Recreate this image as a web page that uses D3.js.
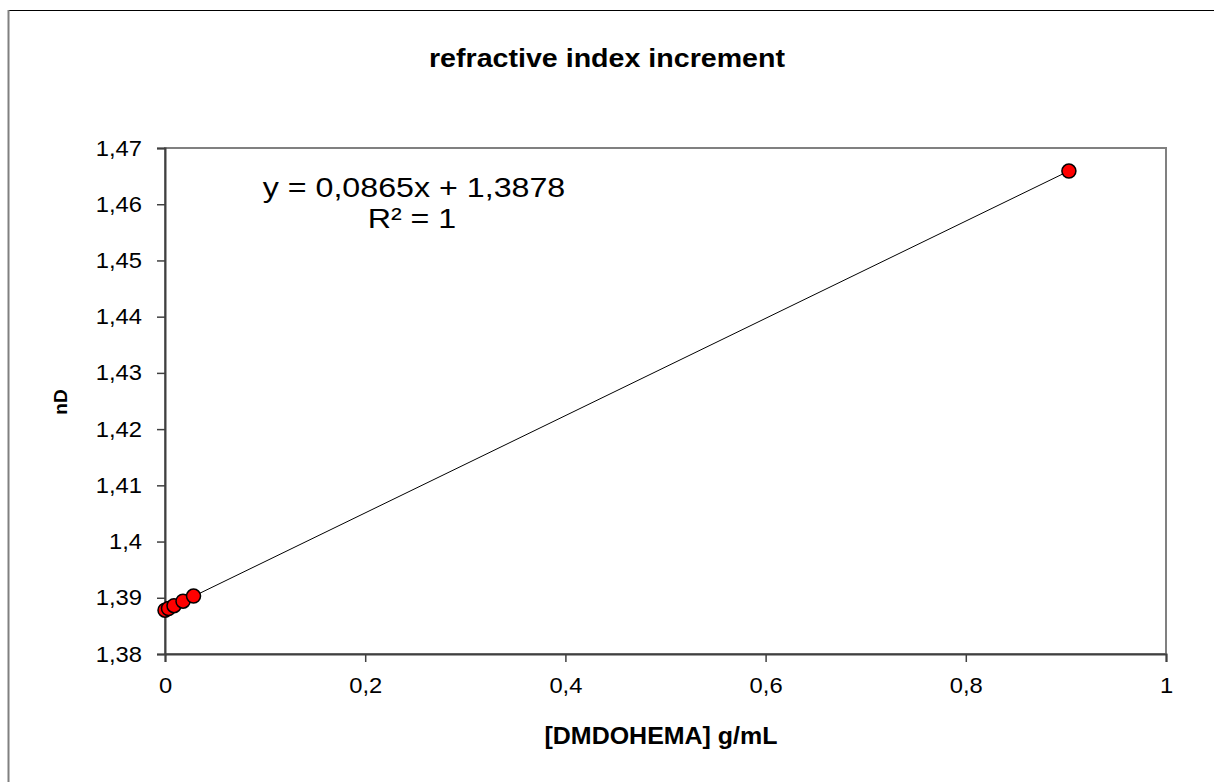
<!DOCTYPE html>
<html><head><meta charset="utf-8">
<script src="https://cdn.jsdelivr.net/npm/d3@7"></script>
<style>body{margin:0;background:#fff}svg{display:block;font-family:"Liberation Sans",Arial,sans-serif}</style>
</head><body>
<svg id="c" width="1214" height="782"></svg>
<script>
const xValues = [0, 0.0035, 0.009, 0.018, 0.0285, 0.903];
const yValues = [1.3878, 1.3881, 1.3886, 1.3894, 1.3903, 1.4659];
const xTicks = [0, 0.2, 0.4, 0.6, 0.8, 1];
const yTicks = [1.38, 1.39, 1.40, 1.41, 1.42, 1.43, 1.44, 1.45, 1.46, 1.47];
const fitSlope = 0.0865, fitIntercept = 1.3878;
const titleText = "refractive index increment";
const xTitle = "[DMDOHEMA] g/mL";
const yTitle = "nD";
const eqText = "y = 0,0865x + 1,3878";
const r2Text = "R² = 1";

const svg = d3.select("#c");
const fmt = v => String(+v.toFixed(2)).replace(".", ",");
const L = 165, R = 1166, T = 148, B = 654;
const x = d3.scaleLinear().domain([0, 1]).range([L, R]);
const y = d3.scaleLinear().domain([1.38, 1.47]).range([B, T]);
const FF = "Liberation Sans, Arial, sans-serif";
function stretch(sel, k) {
  sel.each(function () {
    const w = this.getComputedTextLength();
    d3.select(this).attr("textLength", w * k).attr("lengthAdjust", "spacingAndGlyphs");
  });
}

// outer chart border (left and top visible)
svg.append("line").attr("x1", 8).attr("x2", 1214).attr("y1", 10.5).attr("y2", 10.5).attr("stroke", "#000").attr("stroke-width", 1);
svg.append("line").attr("x1", 8.5).attr("x2", 8.5).attr("y1", 10).attr("y2", 782).attr("stroke", "#808080").attr("stroke-width", 2);

// plot area border
svg.append("rect").attr("x", L).attr("y", T).attr("width", R - L).attr("height", B - T)
  .attr("fill", "none").attr("stroke", "#808080").attr("stroke-width", 2);

// axes
const xAxis = d3.axisBottom(x).tickValues(xTicks).tickFormat(fmt).tickSize(8).tickPadding(15);
const gx = svg.append("g").attr("transform", `translate(0,${B})`).call(xAxis);
gx.select(".domain").attr("stroke", "#404040").attr("stroke-width", 2);
gx.selectAll(".tick line").attr("stroke", "#404040").attr("stroke-width", 1.5);
gx.selectAll("text").attr("font-size", 22).attr("fill", "#000").attr("font-family", FF).call(stretch, 1.08);

const yAxis = d3.axisLeft(y).tickValues(yTicks).tickFormat(fmt).tickSize(8).tickPadding(15);
const gy = svg.append("g").attr("transform", `translate(${L},0)`).call(yAxis);
gy.select(".domain").attr("stroke", "#404040").attr("stroke-width", 2);
gy.selectAll(".tick line").attr("stroke", "#404040").attr("stroke-width", 1.5);
gy.selectAll("text").attr("font-size", 22).attr("fill", "#000").attr("font-family", FF).call(stretch, 1.08);

// trendline
const x0 = d3.min(xValues), x1 = d3.max(xValues);
svg.append("line")
  .attr("x1", x(x0)).attr("y1", y(fitIntercept + fitSlope * x0))
  .attr("x2", x(x1)).attr("y2", y(fitIntercept + fitSlope * x1))
  .attr("stroke", "#000").attr("stroke-width", 1);

// points
svg.append("g").selectAll("circle").data(xValues.map((v, i) => [v, yValues[i]])).join("circle")
  .attr("cx", d => x(d[0])).attr("cy", d => y(d[1])).attr("r", 7)
  .attr("fill", "#ff0000").attr("stroke", "#000").attr("stroke-width", 1.5);

// titles
svg.append("text").attr("x", 607).attr("y", 67).attr("text-anchor", "middle")
  .attr("font-size", 26).attr("font-weight", "bold").text(titleText).call(stretch, 1.1);
svg.append("text").attr("x", 661).attr("y", 744).attr("text-anchor", "middle")
  .attr("font-size", 24).attr("font-weight", "bold").text(xTitle).call(stretch, 1.04);
svg.append("text").attr("transform", "translate(67,402) rotate(-90)").attr("text-anchor", "middle")
  .attr("font-size", 19).attr("font-weight", "bold").text(yTitle);

// equation
svg.append("text").attr("x", 414).attr("y", 197).attr("text-anchor", "middle")
  .attr("font-size", 28.5).text(eqText).call(stretch, 1.13);
svg.append("text").attr("x", 412).attr("y", 228).attr("text-anchor", "middle")
  .attr("font-size", 28.5).text(r2Text).call(stretch, 1.13);
</script>
</body></html>
